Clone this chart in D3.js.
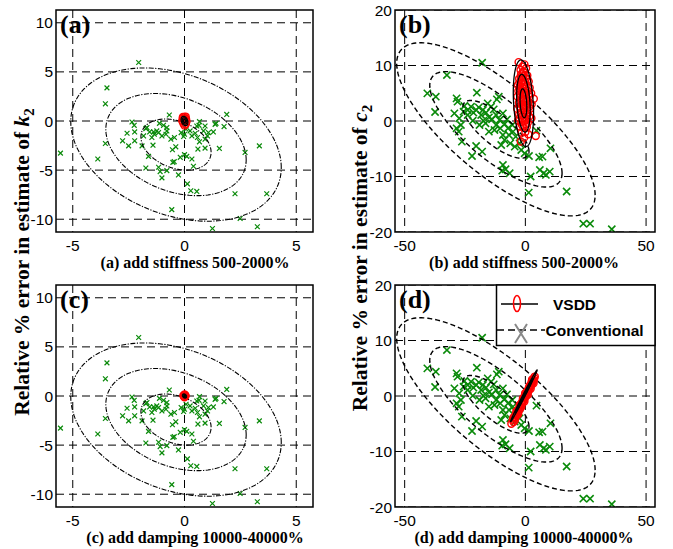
<!DOCTYPE html>
<html><head><meta charset="utf-8">
<script src="https://cdn.jsdelivr.net/npm/d3@7"></script>
<style>body{margin:0;background:#fff}svg{display:block}</style>
</head><body>
<script>
// Conventional identification errors (% in c2/k2 plane): stiffness cases (a),(c)
const convSmall = [
  [-2.05,5.96],[-3.47,3.37],[-3.54,1.75],[-5.55,-3.27],[-3.88,-3.87],[-3.54,-2.29],[-2.35,-0.1],[-2.25,-0.44],
  [-2.57,-1.25],[-2.77,-2.02],[-2.5,-2.53],[-2.23,-2.02],[-2.23,-1.11],[-1.9,-2.53],[-1.83,-1.52],[-1.68,-0.67],
  [-1.56,-1.11],[-1.46,-1.68],[-1.35,-1.35],[-1.24,-1.01],[-1.12,-0.24],[-1.16,-1.18],[-1.01,-1.52],[-0.94,-0.44],
  [-0.79,-1.01],[-0.68,0.61],[-0.83,-1.35],[-0.61,-1.85],[-0.45,-1.68],[-0.39,-2.63],[-0.54,-2.93],[-0.46,-4.14],
  [-0.52,-4.21],[-1.41,-2.46],[-1.61,-3.6],[-1.73,-4.78],[-1.16,-4.71],[-1.09,-5.15],[-1.01,-5.79],[-0.79,-5.05],
  [-0.27,-5.49],[-0.57,-9.02],[-0.15,-1.18],[0,-1.35],[-0.04,-1.58],[0.07,-0.84],[0.25,-1.01],[0.33,-1.52],
  [0.48,-1.25],[0.55,-0.51],[0.67,-0.07],[0.58,-1.68],[0.67,-2.12],[0.6,-2.86],[0.33,-3.87],[0,-3.43],
  [0.1,-3.6],[-0.19,-3.7],[0.4,-4.61],[0.13,-6.4],[0.28,-7.1],[0.55,-7.17],[0.85,-1.01],[0.92,-0.51],
  [1.03,-1.52],[0.92,-2.76],[0.92,-1.85],[1.07,-1.18],[1.29,-1.11],[1.37,-0.34],[1.41,-0.24],[1.56,-2.79],
  [1.77,-0.57],[1.89,0.67],[3.35,-2.53],[2.71,-3.2],[2.26,-7.41],[3.68,-7.41],[2.49,-9.93],[1.25,-10.94],
  [3.26,-10.77],[0.65,-0.44],[-1.73,-0.77],[-1.38,-1.11],[-0.79,-0.67]
];
// Conventional identification errors for the damping parameter, (b),(d)
const convLarge = [
  [-17.9,10.5],[-32.5,8.28],[-40.6,4.98],[-37.1,4.38],[-37.4,1.62],[-28.5,4.08],[-29.4,1.38],[-28.1,3.48],
  [-27.4,0.48],[-26.7,-0.72],[-27.6,-1.92],[-26.3,-3.72],[-22.1,-6.3],[-20.1,5.1],[-20.4,-4.5],[-17.9,-5.52],
  [-25.3,2.7],[-23.9,1.98],[-22.5,2.58],[-21.5,1.5],[-21.8,0.06],[-20.4,1.98],[-19.3,2.46],[-18.3,1.08],
  [-17.4,0.06],[-19.0,-0.72],[-16.3,1.5],[-15.1,0.66],[-14.2,2.58],[-13.1,2.1],[-12.1,1.08],[-12.1,-0.72],
  [-11.0,4.38],[-10.7,0.18],[-10.4,-1.32],[-9.3,1.38],[-8.6,-0.54],[-7.6,0.3],[-7.2,-1.32],[-9.3,-2.52],
  [-8.6,-3.42],[-10.0,-4.32],[-6.25,-4.02],[-6.8,-2.52],[-5.1,-1.92],[-4.4,-4.62],[-1.7,-5.22],[-0.3,-5.82],
  [1.5,-6.3],[-9.3,-7.92],[-8.2,-8.7],[-9.6,-8.94],[-6.5,-9.42],[2.2,-10.0],[1.4,-12.9],[5.7,-6.54],
  [7.1,-6.42],[10.4,-4.92],[6.0,-8.82],[7.6,-9.42],[10.1,-9.12],[8.5,-9.72],[4.6,-1.74],[17.1,-12.7],
  [24.0,-18.5],[26.8,-18.5],[35.8,-19.5],[-11.8,3.9],[-15.6,3.18],[-13.8,0.3],[-16.5,-0.42],[-12.8,-1.62],
  [-15.1,-1.92],[-23.9,1.08],[-25.6,1.68],[-17.6,1.98],[-5.4,-0.72],[-4.0,-2.82],[-2.4,-4.02],[-28.5,-1.32]
];
// VSDD identification errors
const vsddA = [[0.0,0.4],[-0.08,0.25],[0.07,0.2],[-0.1,0.0],[0.09,-0.05],[0.0,0.1],[-0.05,-0.25],
  [0.06,-0.3],[0.0,-0.45],[-0.07,0.4],[0.05,0.45]];
const vsddB = [
  [-2.8,10.6],[-1.3,9.8],[-0.4,10.2],[-2.0,9.2],[0.3,9.5],[-1.8,8.4],[-0.6,8.8],[0.8,8.2],[-2.6,7.6],
  [-1.2,7.4],[0.2,7.7],[1.4,7.1],[-3.1,6.5],[-2.2,6.2],[-0.9,6.6],[0.5,6.3],[1.8,6.0],[-2.9,5.4],
  [-1.6,5.5],[-0.3,5.2],[1.1,5.4],[2.4,5.0],[-3.3,4.4],[-2.1,4.2],[-0.8,4.6],[0.6,4.1],[1.7,4.4],
  [3.5,4.0],[-2.7,3.3],[-1.4,3.0],[-0.1,3.4],[1.2,3.1],[2.6,3.0],[-3.4,2.2],[-2.0,2.0],[-0.6,2.3],
  [0.8,1.9],[2.0,2.2],[-2.6,1.1],[-1.1,1.0],[0.3,1.2],[1.6,0.8],[2.5,0.5],[-3.0,0.1],[-1.7,-0.2],
  [-0.3,0.0],[1.0,-0.3],[-2.2,-1.0],[-0.8,-1.2],[0.6,-1.1],[-1.5,-2.1],[0.0,-2.0],[1.2,-2.4],
  [-1.9,-3.7],[-0.5,-3.0],[4.3,-2.7],[-1.0,8.9],[-2.4,5.8],[0.0,5.8],[-1.6,4.0],
  [-1.5,6.9],[-0.2,7.0],[-1.9,7.9],[-0.8,8.1],[-2.5,6.9],[0.9,7.5],[-1.2,6.0],[0.3,5.0],[-2.3,4.8],
  [-1.0,5.1],[1.4,4.8],[-0.4,4.0],[-1.7,3.6],[0.7,3.6],[-2.4,2.6],[-1.0,2.6],[0.4,2.7],[1.5,2.5],
  [-1.8,1.5],[-0.4,1.6],[1.0,1.4],[-2.4,0.5],[-0.9,0.3],[0.6,0.4],[-1.4,-0.7],[0.2,-0.6]
];
const vsddC = [[0.0,0.15],[-0.05,0.05],[0.05,0.0],[0.0,-0.12],[-0.03,-0.05],[0.03,0.1]];
const vsddD = [
  [-5.8,-5.0],[-5.2,-4.3],[-4.9,-4.7],[-4.6,-3.8],[-4.2,-3.9],[-3.9,-3.2],[-3.5,-3.4],[-3.2,-2.6],
  [-2.8,-2.8],[-2.5,-2.0],[-2.1,-2.1],[-1.8,-1.4],[-1.5,-1.5],[-1.1,-0.8],[-0.8,-0.9],[-0.5,-0.2],
  [-0.2,-0.4],[0.2,0.3],[0.5,0.1],[0.8,0.9],[1.1,0.7],[1.4,1.4],[1.7,1.2],[2.0,2.0],[2.3,1.8],
  [2.6,2.5],[2.9,2.3],[3.2,3.0],[3.5,2.8],[3.9,3.5],[-4.0,-3.5],[-2.3,-2.4],[0.0,0.0],[1.2,1.1],[2.7,2.7],
  [-5.0,-3.9],[-4.4,-4.4],[-3.7,-2.7],[-3.0,-3.3],[-2.3,-1.6],[-1.7,-2.0],[-1.0,-0.4],[-0.4,-1.0],
  [0.4,0.6],[1.0,0.2],[1.6,1.7],[2.2,1.3],[2.8,3.0],[3.4,2.3],[3.7,3.2],[-0.1,0.5],[-1.3,-1.1]
];
// Error ellipses: centre, standard deviations, correlation; drawn at 1, 2, 3 sigma
const sigmaLevels = [1, 2, 3];
const convEllSmall = {cx:-0.38, cy:-2.4, sx:1.57, sy:2.6, rho:-0.3};
const convEllLarge = {cx:-12.2, cy:-1.5, sx:13.7, sy:5.2, rho:-0.76};
const vsddEllA = {cx:0, cy:0, sx:0.05, sy:0.16, rho:-0.3};
const vsddEllB = {cx:-0.8, cy:3.2, sx:1.4, sy:2.6, rho:-0.25};
const vsddEllC = {cx:0, cy:0, sx:0.03, sy:0.07, rho:-0.3};
const vsddEllD = {cx:-0.6, cy:0.05, sx:1.83, sy:1.55, rho:0.995};
// Axis ticks
const ticksSmallX = [-5, 0, 5];
const ticksSmallY = [-10, -5, 0, 5, 10];
const ticksLargeX = [-50, 0, 50];
const ticksLargeY = [-20, -10, 0, 10, 20];
const captions = ["(a) add stiffness 500-2000%", "(b) add stiffness 500-2000%",
                  "(c) add damping 10000-40000%", "(d) add damping 10000-40000%"];
const letters = ["(a)", "(b)", "(c)", "(d)"];

const W = 673, H = 549;
const svg = d3.select("body").append("svg").attr("width", W).attr("height", H);
const cols = [{x0:56, x1:313, cap:195}, {x0:395, x1:655, cap:524}];
const rows = [{y0:10, y1:232}, {y0:285, y1:507}];
const GREEN = "#0a8a0a", RED = "#ff0000";
const fmt = v => String(v).replace("\u2212", "-");

const panels = [
  {i:0, col:0, row:0, conv:convSmall, convE:convEllSmall, vsdd:vsddA, vsddE:vsddEllA, small:true},
  {i:1, col:1, row:0, conv:convLarge, convE:convEllLarge, vsdd:vsddB, vsddE:vsddEllB, small:false},
  {i:2, col:0, row:1, conv:convSmall, convE:convEllSmall, vsdd:vsddC, vsddE:vsddEllC, small:true},
  {i:3, col:1, row:1, conv:convLarge, convE:convEllLarge, vsdd:vsddD, vsddE:vsddEllD, small:false}
];

function ellipsePts(e, k) {
  const n = 200, c = Math.sqrt(1 - e.rho * e.rho), pts = [];
  for (let j = 0; j <= n; j++) {
    const t = 2 * Math.PI * j / n;
    pts.push([e.cx + k * e.sx * Math.cos(t), e.cy + k * (e.rho * e.sy * Math.cos(t) + e.sy * c * Math.sin(t))]);
  }
  return pts;
}

panels.forEach(p => {
  const C = cols[p.col], R = rows[p.row];
  const x = d3.scaleLinear().domain(p.small ? [-5.75, 5.75] : [-54, 53.7]).range([C.x0, C.x1]);
  const y = d3.scaleLinear().domain(p.small ? [-11.3, 11.3] : [-20, 20]).range([R.y1, R.y0]);
  const xt = p.small ? ticksSmallX : ticksLargeX, yt = p.small ? ticksSmallY : ticksLargeY;
  const g = svg.append("g");
  const cid = "clip" + p.i;
  g.append("clipPath").attr("id", cid).append("rect")
    .attr("x", C.x0).attr("y", R.y0).attr("width", C.x1 - C.x0).attr("height", R.y1 - R.y0);
  const pg = g.append("g").attr("clip-path", `url(#${cid})`);

  // dashed grid
  pg.selectAll(".gx").data(xt).join("line")
    .attr("x1", d => x(d)).attr("x2", d => x(d)).attr("y1", R.y0).attr("y2", R.y1)
    .attr("stroke", "#000").attr("stroke-width", 1).attr("stroke-dasharray", "8,5");
  pg.selectAll(".gy").data(yt).join("line")
    .attr("y1", d => y(d)).attr("y2", d => y(d)).attr("x1", C.x0).attr("x2", C.x1)
    .attr("stroke", "#000").attr("stroke-width", 1).attr("stroke-dasharray", "8,5");

  // conventional estimates
  const s = p.small ? 2.4 : 3.6;
  pg.selectAll(".cx").data(p.conv).join("path")
    .attr("transform", d => `translate(${x(d[0])},${y(d[1])})`)
    .attr("d", `M${-s},${-s}L${s},${s}M${-s},${s}L${s},${-s}`)
    .attr("stroke", GREEN).attr("stroke-width", p.small ? 1.2 : 1.6).attr("fill", "none");

  const line = d3.line().x(d => x(d[0])).y(d => y(d[1]));
  pg.selectAll(".ce").data(sigmaLevels).join("path")
    .attr("d", k => line(ellipsePts(p.convE, k)))
    .attr("fill", "none").attr("stroke", "#000")
    .attr("stroke-width", p.small ? 1.1 : 1.4)
    .attr("stroke-dasharray", p.small ? "5,1.5,1.2,1.5" : "5,3");

  // VSDD estimates
  pg.selectAll(".vp").data(p.vsdd).join("circle")
    .attr("cx", d => x(d[0])).attr("cy", d => y(d[1])).attr("r", 3.5)
    .attr("fill", "none").attr("stroke", RED).attr("stroke-width", 1.4);
  pg.selectAll(".ve").data(sigmaLevels).join("path")
    .attr("d", k => line(ellipsePts(p.vsddE, k)))
    .attr("fill", "none").attr("stroke", "#000").attr("stroke-width", 1.3);

  // frame
  g.append("rect").attr("x", C.x0).attr("y", R.y0).attr("width", C.x1 - C.x0).attr("height", R.y1 - R.y0)
    .attr("fill", "none").attr("stroke", "#000").attr("stroke-width", 1.5);

  // tick labels
  g.selectAll(".tx").data(xt).join("text")
    .attr("x", d => x(d)).attr("y", R.y1 + 19).attr("text-anchor", "middle")
    .attr("font-family", "Liberation Sans, Arial, sans-serif").attr("font-size", 15.5).text(fmt);
  g.selectAll(".ty").data(yt).join("text")
    .attr("x", C.x0 - 3).attr("y", d => y(d) + 5.5).attr("text-anchor", "end")
    .attr("font-family", "Liberation Sans, Arial, sans-serif").attr("font-size", 15.5).text(fmt);

  // panel letter and caption
  g.append("text").attr("x", C.x0 + 4).attr("y", R.y0 + 23)
    .attr("font-family", "Liberation Serif, Times New Roman, serif").attr("font-weight", "bold")
    .attr("font-size", 26).text(letters[p.i]);
  g.append("text").attr("x", C.cap).attr("y", R.y1 + 36).attr("text-anchor", "middle")
    .attr("font-family", "Liberation Serif, Times New Roman, serif").attr("font-weight", "bold")
    .attr("font-size", 16).text(captions[p.i]);
});

// y-axis titles
[{x:29, y:262, v:"k"}, {x:367, y:258, v:"c"}].forEach(t => {
  const tx = svg.append("text").attr("transform", `translate(${t.x},${t.y}) rotate(-90)`)
    .attr("text-anchor", "middle").attr("font-family", "Liberation Serif, Times New Roman, serif")
    .attr("font-weight", "bold").attr("font-size", 21.5);
  tx.append("tspan").text("Relative % error in estimate of ");
  tx.append("tspan").attr("font-style", "italic").text(t.v);
  tx.append("tspan").attr("font-size", 15).attr("dy", 5).text("2");
});

// legend in panel (d)
const lg = svg.append("g");
lg.append("rect").attr("x", 496.5).attr("y", 285).attr("width", 158.5).attr("height", 60.5)
  .attr("fill", "#fff").attr("stroke", "#000").attr("stroke-width", 1.5);
lg.append("line").attr("x1", 501).attr("x2", 538).attr("y1", 304).attr("y2", 304)
  .attr("stroke", "#000").attr("stroke-width", 1.5);
lg.append("ellipse").attr("cx", 517).attr("cy", 303.5).attr("rx", 3.5).attr("ry", 8)
  .attr("fill", "none").attr("stroke", RED).attr("stroke-width", 1.5);
lg.append("text").attr("x", 553).attr("y", 309.5).attr("font-family", "Liberation Sans, Arial, sans-serif")
  .attr("font-weight", "bold").attr("font-size", 15.5).text("VSDD");
lg.append("line").attr("x1", 497).attr("x2", 545).attr("y1", 330).attr("y2", 330)
  .attr("stroke", "#000").attr("stroke-width", 1.5).attr("stroke-dasharray", "7,4");
lg.append("path").attr("d", "M515,324L527,343M527,324L515,343")
  .attr("stroke", "#888").attr("stroke-width", 2).attr("fill", "none");
lg.append("text").attr("x", 545.5).attr("y", 335.5).attr("font-family", "Liberation Sans, Arial, sans-serif")
  .attr("font-weight", "bold").attr("font-size", 15.5).text("Conventional");
</script>
</body></html>
